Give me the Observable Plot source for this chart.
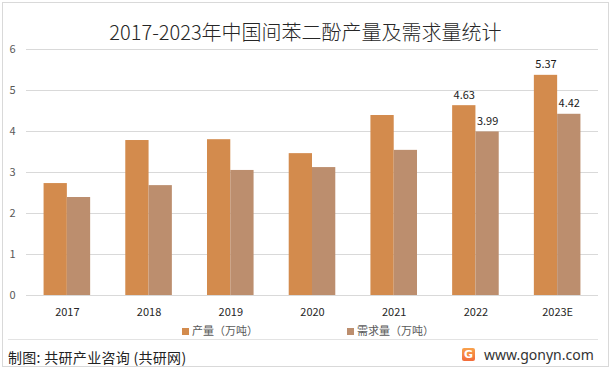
<!DOCTYPE html>
<html>
<head>
<meta charset="utf-8">
<script src="https://cdn.jsdelivr.net/npm/d3@7"></script>
<script src="https://cdn.jsdelivr.net/npm/@observablehq/plot@0.6"></script>
<style>
  body { margin: 0; background: #fff; }
  #wrap { position: relative; width: 612px; height: 370px; background: #fff; overflow: hidden;
          font-family: "Noto Sans CJK SC", "Noto Sans", sans-serif; }
  #frame { position: absolute; left: 2px; top: 2px; width: 607px; height: 365px; border: 1px solid #d9d9d9; box-sizing: border-box; }
  #title { position: absolute; left: 0; top: 19px; width: 611px; text-align: center; font-size: 20px; line-height: 26px; color: #262626; font-weight: 300; }
  .layer { position: absolute; left: 0; top: 0; }
  .leg { position: absolute; top: 322px; font-size: 11px; line-height: 16px; color: #595959; white-space: nowrap; }
  .sw { display: inline-block; width: 7px; height: 7px; margin-right: 3px; vertical-align: 0px; }
  #sep { position: absolute; left: 8px; top: 339px; width: 590px; height: 1px; background: #e3e3e3; }
  #src { position: absolute; left: 8px; top: 347px; font-size: 14px; line-height: 20px; color: #222; letter-spacing: 0.3px; }
  #site { position: absolute; left: 484px; top: 345px; font-size: 14px; line-height: 20px; color: #333; font-family: "Noto Sans", sans-serif; }
  #logo { position: absolute; left: 462px; top: 348px; width: 13px; height: 13px; border-radius: 2px;
          background: linear-gradient(180deg, #f9a24c, #f26b3a); color: #fff; font: bold 11px/13px "DejaVu Sans", sans-serif; text-align: center; }
</style>
</head>
<body>
<div id="wrap">
  <div id="frame"></div>
  <div id="title">2017-2023年中国间苯二酚产量及需求量统计</div>
  <div id="grid" class="layer"></div>
  <div id="bars" class="layer"></div>
  <div class="leg" style="left:182px"><span class="sw" style="background:#D38B4D"></span>产量（万吨）</div>
  <div class="leg" style="left:347px"><span class="sw" style="background:#BC8E6E"></span>需求量（万吨）</div>
  <div id="sep"></div>
  <div id="src">制图: 共研产业咨询 (共研网)</div>
  <div id="logo">G</div>
  <div id="site">www.gonyn.com</div>
</div>
<script>
const years = ["2017", "2018", "2019", "2020", "2021", "2022", "2023E"];
const production = [2.73, 3.78, 3.80, 3.46, 4.39, 4.63, 5.37];
const demand = [2.39, 2.68, 3.05, 3.12, 3.54, 3.99, 4.42];
const seriesNames = ["产量（万吨）", "需求量（万吨）"];
const seriesColors = ["#D38B4D", "#BC8E6E"];
const labeledYears = ["2022", "2023E"];
const yTicks = [0, 1, 2, 3, 4, 5, 6];

const rows = years.flatMap((year, i) => [
  {year, series: seriesNames[0], value: production[i]},
  {year, series: seriesNames[1], value: demand[i]}
]);

const common = {width: 612, height: 322, marginLeft: 26, marginRight: 14, marginTop: 49, marginBottom: 27};
const font = "'Noto Sans CJK SC', 'Noto Sans', sans-serif";

const gridPlot = Plot.plot({
  ...common,
  style: {fontSize: "11px", fontFamily: font, color: "#595959", background: "transparent"},
  x: {axis: null},
  y: {domain: [0, 6], ticks: yTicks, tickSize: 0, tickPadding: 11, label: null, tickFormat: d3.format("d")},
  marks: [Plot.ruleY(yTicks, {stroke: "#d9d9d9", strokeWidth: 1})]
});
document.getElementById("grid").appendChild(gridPlot);

const barPlot = Plot.plot({
  ...common,
  style: {fontSize: "11px", fontFamily: font, color: "#262626", background: "transparent"},
  fx: {domain: years, round: false, paddingInner: 0.43, paddingOuter: 0.215, tickSize: 0, tickPadding: 13, label: null},
  x: {domain: seriesNames, round: false, padding: 0, axis: null},
  y: {domain: [0, 6], axis: null},
  color: {domain: seriesNames, range: seriesColors},
  marks: [
    Plot.barY(rows, {fx: "year", x: "series", y: "value", fill: "series"}),
    Plot.text(rows.filter(d => labeledYears.includes(d.year)), {
      fx: "year", x: "series", y: "value", text: d => d.value.toFixed(2),
      lineAnchor: "bottom", dy: -7, fill: "#1a1a1a", fontSize: 11
    })
  ]
});
document.getElementById("bars").appendChild(barPlot);
</script>
</body>
</html>
